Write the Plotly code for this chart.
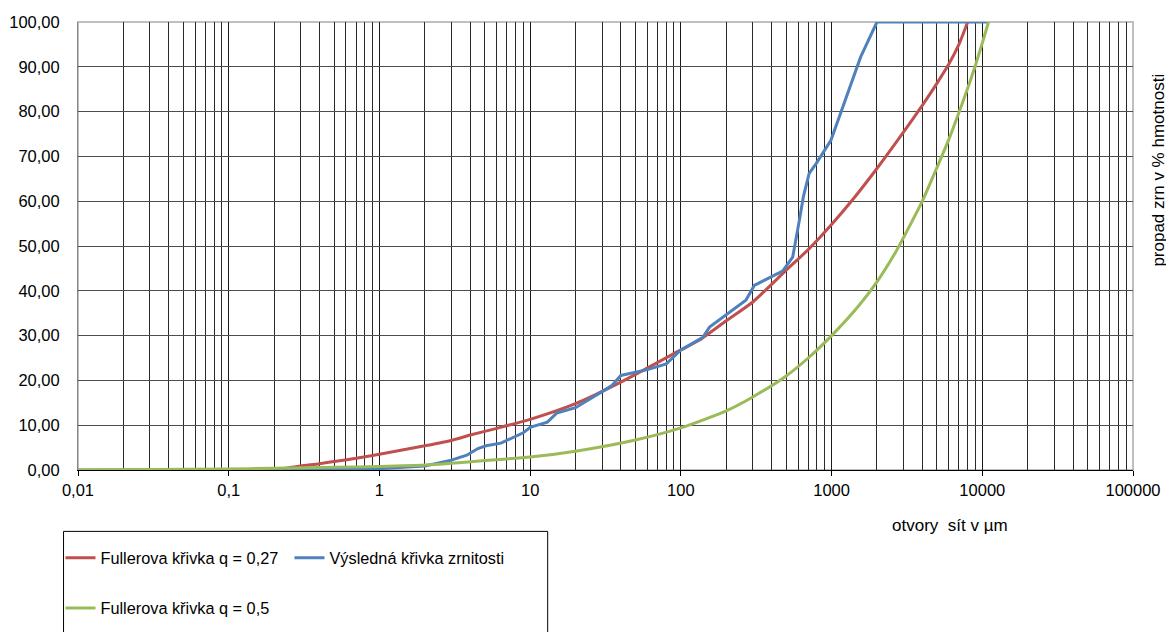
import plotly.graph_objects as go

# sieve openings (µm) and passing (%)
red_d = [0.2, 0.3, 0.4, 0.5, 0.7, 1, 2, 3, 4, 6, 10, 20, 40, 100, 133, 200, 300, 500,
         700, 1000, 1400, 2000, 3000, 4000, 5000, 6000, 7000, 8000]
red_p = [0.0, 0.9, 1.4, 1.9, 2.6, 3.5, 5.4, 6.6, 7.8, 9.3, 11.3, 14.8, 19.6, 26.8,
         29.0, 33.3, 37.5, 44.6, 49.2, 54.8, 60.6, 67.3, 75.4, 81.4, 86.3, 90.6, 95.0, 100.0]

green_d = [0.01, 0.1, 0.2, 0.5, 1, 2, 3, 5, 10, 20, 50, 100, 200, 300, 500, 700, 1000,
           1500, 2000, 2700, 3300, 4000, 5000, 6000, 7000, 8000, 9000, 10000, 11000]
green_p = [0.0, 0.2, 0.4, 0.6, 0.8, 1.1, 1.5, 2.1, 2.9, 4.2, 6.7, 9.4, 13.2, 16.3,
           21.0, 25.0, 30.0, 36.5, 42.0, 49.0, 54.5, 60.0, 67.5, 73.8, 79.8, 85.2,
           90.3, 95.3, 100.0]

blue_d = [0.01, 0.1, 0.5, 1, 2, 3, 3.8, 4.5, 5.1, 6.4, 7.7, 9, 10, 13, 15, 20, 30,
          35, 40, 60, 80, 100, 140, 155, 270, 307, 473, 552, 611, 650, 710,
          790, 990, 1150, 1560, 2000, 11000]
blue_p = [0.0, 0.0, 0.1, 0.3, 0.9, 2.2, 3.3, 4.8, 5.4, 6.0, 7.2, 8.3, 9.5, 10.7,
          12.7, 13.9, 17.5, 18.9, 21.1, 22.4, 23.7, 26.8, 29.6, 31.9, 37.9, 41.2,
          44.4, 47.5, 55.7, 61.0, 66.2, 68.4, 73.6, 79.6, 92.2, 100.0, 100.0]

x_ticks = [0.01, 0.1, 1, 10, 100, 1000, 10000, 100000]
x_labels = ["0,01", "0,1", "1", "10", "100", "1000", "10000", "100000"]
y_ticks = [0, 10, 20, 30, 40, 50, 60, 70, 80, 90, 100]

FONT = "Liberation Sans, Arial, sans-serif"

fig = go.Figure()

fig.add_trace(go.Scatter(
    x=red_d, y=red_p, mode='lines', name='Fullerova křivka q = 0,27',
    line=dict(color='#C0504D', width=3, shape='spline', smoothing=0.6),
    legend='legend'
))
fig.add_trace(go.Scatter(
    x=blue_d, y=blue_p, mode='lines', name='Výsledná křivka zrnitosti',
    line=dict(color='#4F81BD', width=3),
    legend='legend'
))
fig.add_trace(go.Scatter(
    x=green_d, y=green_p, mode='lines', name='Fullerova křivka q = 0,5',
    line=dict(color='#9BBB59', width=3, shape='spline', smoothing=0.6),
    legend='legend2'
))

# frame of the plot area and the legend box
fig.add_shape(type='rect', xref='paper', yref='paper', x0=0, x1=1, y0=0, y1=1,
              line=dict(color='#BFBFBF', width=2), layer='below')
fig.add_shape(type='rect', xref='paper', yref='paper', x0=-0.0137, x1=0.4452,
              y0=-0.137, y1=-0.6, line=dict(color='#000000', width=1))

fig.add_annotation(text='otvory\u00a0 sít v µm', xref='paper', yref='paper',
                   x=0.827, y=-0.1234, xanchor='center', yanchor='middle',
                   showarrow=False,
                   font=dict(size=17, color='#000000', family=FONT))
fig.add_annotation(text='propad zrn v % hmotnosti', xref='paper', yref='paper',
                   x=1.0240, y=0.669, xanchor='center', yanchor='middle',
                   showarrow=False, textangle=-90,
                   font=dict(size=17, color='#000000', family=FONT))

legend_style = dict(orientation='h', bgcolor='rgba(0,0,0,0)', borderwidth=0,
                    font=dict(size=16.3, color='#000000', family=FONT),
                    xanchor='left', yanchor='middle')

# the page adds an 8px body margin, so margins are trimmed by 8px
fig.update_layout(
    width=1174, height=632,
    margin=dict(l=70, r=49, t=14, b=170),
    paper_bgcolor='white', plot_bgcolor='white',
    separators=', ',
    font=dict(family=FONT, size=16.5, color='#000000'),
    legend=dict(x=-0.0166, y=-0.197, entrywidth=184, **legend_style),
    legend2=dict(x=-0.0166, y=-0.309, **legend_style),
    xaxis=dict(
        type='log', range=[-2, 5], automargin=False,
        tickmode='array', tickvals=x_ticks, ticktext=x_labels,
        ticks='outside', ticklen=5, tickcolor='#000000',
        showline=True, linecolor='#000000', linewidth=1,
        showgrid=True, gridcolor='#1A1A1A', gridwidth=1,
        minor=dict(dtick='D1', showgrid=True, gridcolor='#2A2A2A', gridwidth=1, ticks=''),
        zeroline=False,
    ),
    yaxis=dict(
        range=[0, 100], automargin=False,
        tickmode='array', tickvals=y_ticks, tickformat='.2f',
        showline=True, linecolor='#868686', linewidth=1,
        showgrid=True, gridcolor='#4D4D4D', gridwidth=1,
        ticks='', ticklabelstandoff=14, zeroline=False,
    ),
)

fig.write_html("out.html")
